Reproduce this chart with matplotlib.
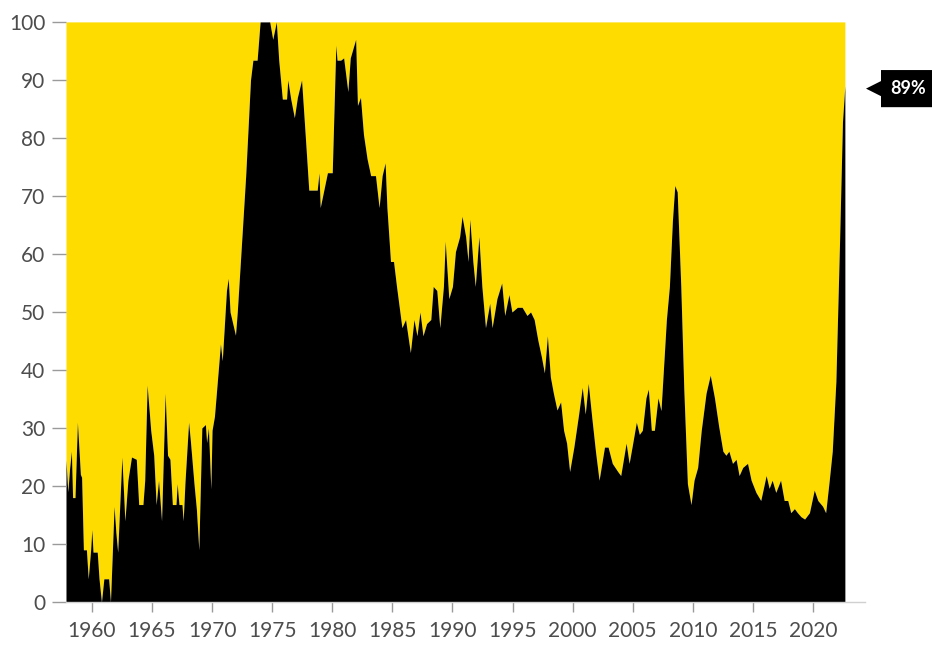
import matplotlib
matplotlib.use('Agg')
import matplotlib.pyplot as plt
from matplotlib.patches import Polygon
from matplotlib.transforms import blended_transform_factory

YELLOW = '#FEDC00'
plt.rcParams['font.family'] = ['Lato', 'DejaVu Sans']

# share (%), irregular time points
years = [
    1957.85, 1958.0, 1958.15, 1958.3, 1958.4, 1958.6, 1958.8, 1959.05, 1959.15, 1959.3,
    1959.55, 1959.7, 1959.9, 1960.0, 1960.1, 1960.45, 1960.6, 1960.8, 1961.0, 1961.4,
    1961.55, 1961.85, 1962.0, 1962.15, 1962.5, 1962.75, 1963.0, 1963.3, 1963.7, 1963.9,
    1964.25, 1964.4, 1964.6, 1964.9, 1965.15, 1965.35, 1965.55, 1965.8, 1966.1, 1966.3,
    1966.5, 1966.7, 1967.0, 1967.1, 1967.25, 1967.5, 1967.6, 1967.75, 1968.05, 1968.2,
    1968.5, 1968.7, 1968.9, 1969.15, 1969.45, 1969.55, 1969.7, 1969.9, 1970.0, 1970.2,
    1970.4, 1970.7, 1970.85, 1971.2, 1971.35, 1971.5, 1971.95, 1972.1, 1972.4, 1972.8,
    1973.2, 1973.4, 1973.75, 1974.0, 1974.8, 1975.05, 1975.35, 1975.55, 1975.85, 1976.2,
    1976.3, 1976.55, 1976.85, 1977.1, 1977.45, 1977.75, 1978.05, 1978.75, 1978.9, 1979.0,
    1979.6, 1980.0, 1980.3, 1980.4, 1980.7, 1980.95, 1981.3, 1981.5, 1981.95, 1982.1,
    1982.35, 1982.6, 1982.9, 1983.2, 1983.6, 1983.9, 1984.15, 1984.4, 1984.55, 1984.85,
    1985.1, 1985.35, 1985.8, 1986.1, 1986.5, 1986.8, 1987.05, 1987.3, 1987.55, 1987.85,
    1988.2, 1988.4, 1988.7, 1988.95, 1989.25, 1989.4, 1989.7, 1990.0, 1990.25, 1990.6,
    1990.8, 1991.1, 1991.3, 1991.45, 1991.7, 1991.9, 1992.2, 1992.45, 1992.75, 1993.1,
    1993.3, 1993.7, 1994.1, 1994.35, 1994.7, 1994.95, 1995.4, 1995.8, 1996.2, 1996.5,
    1996.8, 1997.1, 1997.4, 1997.65, 1997.9, 1998.15, 1998.4, 1998.7, 1999.0, 1999.25,
    1999.5, 1999.75, 2000.1, 2000.5, 2000.8, 2001.05, 2001.3, 2001.6, 2001.9, 2002.2,
    2002.65, 2002.95, 2003.3, 2003.75, 2004.0, 2004.45, 2004.7, 2005.0, 2005.3, 2005.55,
    2005.8, 2006.1, 2006.3, 2006.55, 2006.8, 2007.1, 2007.35, 2007.8, 2008.05, 2008.3,
    2008.5, 2008.7, 2009.0, 2009.25, 2009.55, 2009.85, 2010.1, 2010.4, 2010.7, 2011.1,
    2011.45, 2011.8, 2012.15, 2012.5, 2012.75, 2013.0, 2013.3, 2013.6, 2013.85, 2014.15,
    2014.55, 2014.85, 2015.25, 2015.65, 2016.1, 2016.35, 2016.6, 2016.9, 2017.3, 2017.6,
    2017.9, 2018.15, 2018.45, 2018.7, 2019.0, 2019.3, 2019.7, 2020.1, 2020.4, 2020.8,
    2021.05, 2021.35, 2021.6, 2021.9, 2022.2, 2022.45, 2022.65,
]
share = [
    24.5, 19, 23, 26, 18, 18, 31, 22, 21.5, 9,
    9, 4, 9, 12.5, 8.6, 8.6, 4, 0, 4, 4,
    0, 16.5, 12, 8.6, 25, 14, 21, 25, 24.6, 16.8,
    16.8, 21, 37.4, 29.6, 25.3, 16.8, 21, 14, 36, 25.3,
    24.6, 16.8, 16.8, 20.4, 16.8, 16.8, 14, 20.7, 31, 27.8,
    20.4, 16, 9, 30, 30.6, 27.5, 30, 19.5, 29.6, 32,
    37, 44.5, 41.6, 53.7, 55.8, 50, 46, 50, 60, 73.5,
    90, 93.4, 93.4, 100, 100, 97, 100, 93.4, 86.7, 86.7,
    90, 86.7, 83.5, 87, 90, 80.6, 71, 71, 74, 68,
    74, 74, 96, 93.4, 93.4, 93.8, 88, 93.8, 97, 85.6,
    87, 80.6, 76.4, 73.5, 73.5, 68, 73.5, 75.7, 68, 58.7,
    58.7, 54.4, 47.3, 48.7, 43, 48.7, 45.9, 50, 45.9, 48,
    48.7, 54.4, 53.7, 47.3, 54.4, 62.2, 52.3, 54.4, 60.4, 63,
    66.5, 63, 58.7, 66, 58.7, 54.4, 63, 54.4, 47.3, 51.5,
    47.3, 52.3, 55, 49.4, 53, 50, 50.8, 50.8, 49.4, 50,
    48.7, 45.2, 42.3, 39.5, 45.9, 38.8, 36, 33.1, 34.5, 29.6,
    27.4, 22.5, 26.7, 32.4, 37, 32.4, 37.7, 31.7, 26, 21,
    26.7, 26.7, 23.9, 22.5, 21.8, 27.4, 23.9, 27.4, 31, 28.9,
    29.6, 35.2, 36.7, 29.6, 29.6, 35.2, 33, 48.7, 54.4, 65.7,
    71.8, 70.7, 54.4, 36.7, 20.4, 16.8, 21, 23.2, 29.6, 36,
    39.1, 35.2, 30.3, 26, 25.3, 26, 23.9, 24.6, 21.8, 23.2,
    23.9, 21, 18.9, 17.5, 21.8, 19.6, 21, 18.9, 21, 17.5,
    17.5, 15.4, 16.1, 15.4, 14.7, 14.3, 15.4, 19.3, 17.5, 16.5,
    15.4, 21, 26, 38, 61.5, 82.8, 89,
]
x_ticks = list(range(1960, 2021, 5))
y_ticks = list(range(0, 101, 10))
last_label = '89%'

fig = plt.figure(figsize=(9.32, 6.46), dpi=100)
ax = fig.add_axes([0.0708, 0.0681, 0.857, 0.898])

ax.fill_between(years, share, 100, color=YELLOW, lw=0)
ax.fill_between(years, 0, share, color='black', lw=0)

ax.set_xlim(years[0], 2024.3)
ax.set_ylim(0, 100)
ax.set_xticks(x_ticks)
ax.set_yticks(y_ticks)

for s in ['top', 'right', 'left']:
    ax.spines[s].set_visible(False)
ax.spines['bottom'].set_color('#d0d0d0')
ax.spines['bottom'].set_linewidth(1)

ax.tick_params(axis='y', length=10, width=1, color='#9a9a9a', pad=5,
               labelsize=15, labelcolor='#4d4d4d')
ax.tick_params(axis='x', length=7, width=1, color='#9a9a9a', pad=7,
               labelsize=15, labelcolor='#4d4d4d')

# callout tag for the latest value
tr = blended_transform_factory(fig.transFigure, ax.transData)
y = share[-1] - 0.5
tip, body = 866 / 932, 881 / 932
tag = Polygon([(tip, y), (body, y + 1.3), (body, y + 3.2), (1.01, y + 3.2),
               (1.01, y - 3.2), (body, y - 3.2), (body, y - 1.3)],
              closed=True, transform=tr, facecolor='black', edgecolor='none',
              clip_on=False)
fig.patches.append(tag)
fig.text(890 / 932, y, last_label, transform=tr, color='white', fontsize=13,
         fontweight='bold', va='center', ha='left')

fig.savefig('out.png', dpi=100)
